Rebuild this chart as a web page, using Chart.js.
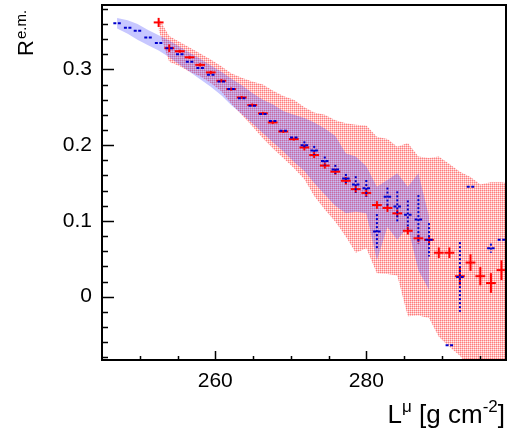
<!DOCTYPE html>
<html>
<head>
<meta charset="utf-8">
<script src="https://cdn.jsdelivr.net/npm/chart.js@4.4.0/dist/chart.umd.min.js"></script>
<style>
  html, body { margin: 0; padding: 0; background: #fff; }
  #wrap { width: 515px; height: 432px; }
</style>
</head>
<body>
<div id="wrap"><canvas id="chart"></canvas></div>
<script>
// bin centres, L^mu [g cm^-2]
var depth = [247.0, 248.4, 249.7, 251.1, 252.5, 253.9, 255.3, 256.6, 258.0, 259.4,
             260.8, 262.1, 263.5, 264.9, 266.3, 267.6, 269.0, 270.4, 271.8, 273.1,
             274.5, 275.9, 277.3, 278.6, 280.0, 281.4, 282.8, 284.1, 285.5, 286.9,
             288.3, 289.6, 291.0, 292.4, 293.8, 295.1, 296.5, 297.9];

// blue points (all 38 bins)
var blueR = [0.361, 0.355, 0.351, 0.342, 0.335, 0.328, 0.320, 0.310, 0.302, 0.293,
             0.284, 0.274, 0.262, 0.252, 0.241, 0.232, 0.219, 0.210, 0.200, 0.193,
             0.179, 0.168, 0.156, 0.148, 0.143, 0.086, 0.132, 0.119, 0.108, 0.102,
             0.075, null, -0.064, 0.026, 0.145, null, 0.064, 0.075];
var blueErr = [0, 0, 0, 0, 0, 0, 0, 0, 0, 0,
               0, 0, 0, 0, 0, 0, 0, 0, 0.005, 0.006,
               0.006, 0.006, 0.006, 0.011, 0.011, 0.023, 0.012, 0.020, 0.019, 0.032,
               0.022, 0, 0, 0.046, 0, 0, 0.006, 0];

// red points (bins from 252.5 on)
var redR = [0.362, 0.328, 0.324, 0.316, 0.306, 0.296, 0.285, 0.274, 0.263, 0.253,
            0.242, 0.230, 0.218, 0.208, 0.197, 0.187, 0.173, 0.165, 0.153, 0.142,
            0.137, 0.121, 0.117, 0.110, 0.087, 0.077, 0.075, 0.058, 0.058, 0.027,
            0.045, 0.027, 0.018, 0.035];
var redErr = [0.006, 0.005, 0.002, 0.002, 0.002, 0.002, 0.002, 0.002, 0.002, 0.002,
              0.002, 0.002, 0.002, 0.002, 0.004, 0.004, 0.004, 0.004, 0.005, 0.005,
              0.005, 0.005, 0.005, 0.005, 0.005, 0.005, 0.005, 0.007, 0.007, 0.012,
              0.011, 0.012, 0.013, 0.013];

// systematic bands
var blueBandHi = [0.368, 0.365, 0.360, 0.352, 0.345, 0.338, 0.330, 0.322, 0.314, 0.305,
                  0.297, 0.288, 0.279, 0.269, 0.260, 0.254, 0.245, 0.240, 0.236, 0.230,
                  0.222, 0.212, 0.189, 0.185, 0.172, 0.145, 0.154, 0.163, 0.145, 0.163,
                  0.106];
var blueBandLo = [0.354, 0.347, 0.339, 0.332, 0.325, 0.316, 0.306, 0.297, 0.287, 0.277,
                  0.266, 0.253, 0.241, 0.229, 0.216, 0.204, 0.192, 0.178, 0.166, 0.150,
                  0.135, 0.120, 0.110, 0.112, 0.110, 0.048, 0.092, 0.075, 0.092, 0.035,
                  0.009];
var redBandHi = [0.368, 0.344, 0.336, 0.329, 0.321, 0.313, 0.304, 0.295, 0.289, 0.284,
                 0.280, 0.272, 0.265, 0.260, 0.250, 0.243, 0.240, 0.233, 0.229, 0.227,
                 0.226, 0.211, 0.208, 0.198, 0.203, 0.185, 0.183, 0.185, 0.175, 0.165,
                 0.158, 0.148, 0.151, 0.151, 0.150];
var redBandLo = [0.352, 0.310, 0.304, 0.297, 0.291, 0.282, 0.271, 0.255, 0.240, 0.225,
                 0.209, 0.196, 0.183, 0.170, 0.155, 0.133, 0.115, 0.099, 0.079, 0.058,
                 0.064, 0.031, 0.030, 0.028, -0.026, -0.025, -0.028, -0.053, -0.066, -0.078,
                 -0.095, -0.1, -0.1, -0.1, -0.1];
var redBandDepth = depth.slice(4).concat(298.6);

var xTicks = [260, 280];
var yTicks = [0, 0.1, 0.2, 0.3];
var yTickLabels = ['0', '0.1', '0.2', '0.3'];

var FONT = "'Liberation Sans', Arial, Helvetica, sans-serif";

function points(xs, ys, errs, ex) {
    var out = [];
    for (var i = 0; i < ys.length; i++) {
        if (ys[i] === null) continue;
        out.push({ x: xs[i], y: ys[i], ex: ex, ey: errs[i] });
    }
    return out;
}

function band(xs, ys) {
    return ys.map(function (v, i) { return { x: xs[i], y: v }; });
}

function makePattern(cells, w, h) {
    var c = document.createElement('canvas');
    c.width = w; c.height = h;
    var g = c.getContext('2d');
    cells.forEach(function (p) {
        g.fillStyle = p[2];
        g.fillRect(p[0], p[1], 1, 1);
    });
    return g.createPattern(c, 'repeat');
}

var redFill = makePattern([
    [0, 0, 'rgba(255,70,70,0.7)'], [1, 0, 'rgba(255,130,130,0.55)'],
    [0, 1, 'rgba(255,130,130,0.55)'], [1, 1, 'rgba(255,210,210,0.3)']
], 2, 2);
var blueFill = 'rgba(70,70,255,0.3)';

// error bars, frame, inner ticks and axis titles
var decorations = {
    id: 'decorations',
    afterDatasetsDraw: function (chart) {
        var ctx = chart.ctx, xs = chart.scales.x, ys = chart.scales.y, a = chart.chartArea;
        ctx.save();
        ctx.beginPath();
        ctx.rect(a.left, a.top, a.right - a.left, a.bottom - a.top);
        ctx.clip();
        chart.data.datasets.forEach(function (ds) {
            if (!ds.errorStyle) return;
            var st = ds.errorStyle;
            ctx.strokeStyle = st.color;
            ctx.lineWidth = 2;
            ds.data.forEach(function (p) {
                var px = xs.getPixelForValue(p.x), py = ys.getPixelForValue(p.y);
                ctx.setLineDash(st.hDash);
                ctx.beginPath();
                ctx.moveTo(xs.getPixelForValue(p.x - p.ex), py);
                ctx.lineTo(xs.getPixelForValue(p.x + p.ex), py);
                ctx.stroke();
                if (p.ey > 0) {
                    ctx.setLineDash(st.vDash);
                    ctx.beginPath();
                    ctx.moveTo(px, ys.getPixelForValue(p.y + p.ey));
                    ctx.lineTo(px, ys.getPixelForValue(p.y - p.ey));
                    ctx.stroke();
                }
            });
        });
        ctx.restore();
    },
    afterDraw: function (chart) {
        var ctx = chart.ctx, xs = chart.scales.x, ys = chart.scales.y, a = chart.chartArea;
        ctx.save();
        ctx.strokeStyle = '#000';
        ctx.lineWidth = 2;
        ctx.setLineDash([]);
        ctx.strokeRect(a.left, a.top, a.right - a.left, a.bottom - a.top);

        ctx.lineWidth = 1.5;
        ctx.beginPath();
        for (var v = -8; v <= 38; v += 2) {
            var py = Math.round(ys.getPixelForValue(v / 100)) + 0.5;
            var len = (v % 10 === 0) ? 12 : 6;
            ctx.moveTo(a.left, py);
            ctx.lineTo(a.left + len, py);
        }
        for (var t = 250; t <= 295; t += 5) {
            var px = Math.round(xs.getPixelForValue(t)) + 0.5;
            var l2 = (t % 20 === 0) ? 9 : 4;
            ctx.moveTo(px, a.bottom);
            ctx.lineTo(px, a.bottom - l2);
        }
        ctx.stroke();

        ctx.fillStyle = '#000';
        ctx.textBaseline = 'alphabetic';
        // x title
        var big = '26px ' + FONT, small = '17px ' + FONT;
        var parts = [['L', big, 0], ['\u03bc', small, -11], [' [g cm', big, 0], ['-2', small, -11], [']', big, 0]];
        var total = 0;
        parts.forEach(function (p) { ctx.font = p[1]; total += ctx.measureText(p[0]).width; });
        var x = 505 - total;
        parts.forEach(function (p) {
            ctx.font = p[1];
            ctx.fillText(p[0], x, 423 + p[2]);
            x += ctx.measureText(p[0]).width;
        });
        // y title
        ctx.translate(33, 56);
        ctx.rotate(-Math.PI / 2);
        ctx.font = '22px ' + FONT;
        ctx.fillText('R', 0, 0);
        var w = ctx.measureText('R').width;
        ctx.font = '15px ' + FONT;
        ctx.fillText('e.m.', w + 1, -7);
        ctx.restore();
    }
};

var ctx = document.getElementById('chart').getContext('2d');
var chart = new Chart(ctx, {
    type: 'line',
    data: {
        datasets: [{
            data: points(depth.slice(4), redR, redErr, 0.65),
            showLine: false, pointRadius: 0,
            errorStyle: { color: '#ff0000', hDash: [], vDash: [] }
        }, {
            data: points(depth, blueR, blueErr, 0.5),
            showLine: false, pointRadius: 0,
            errorStyle: { color: '#0000cc', hDash: [3, 1.5], vDash: [2, 2] }
        }, {
            data: band(depth, blueBandHi),
            borderWidth: 0, pointRadius: 0, tension: 0,
            backgroundColor: blueFill, fill: '+1'
        }, {
            data: band(depth, blueBandLo),
            borderWidth: 0, pointRadius: 0, tension: 0, fill: false
        }, {
            data: band(redBandDepth, redBandHi),
            borderWidth: 0, pointRadius: 0, tension: 0,
            backgroundColor: redFill, fill: '+1'
        }, {
            data: band(redBandDepth, redBandLo),
            borderWidth: 0, pointRadius: 0, tension: 0, fill: false
        }]
    },
    options: {
        responsive: true,
        maintainAspectRatio: false,
        animation: false,
        layout: { padding: { top: 5, right: 9, left: 0, bottom: 0 } },
        plugins: { legend: { display: false }, tooltip: { enabled: false } },
        scales: {
            x: {
                type: 'linear', min: 245, max: 298.5,
                grid: { display: false, drawTicks: false },
                border: { display: false },
                afterBuildTicks: function (s) { s.ticks = xTicks.map(function (v) { return { value: v }; }); },
                afterFit: function (s) { s.height = 72; s.paddingLeft = 0; s.paddingRight = 0; },
                ticks: { color: '#000', padding: 9, font: { family: FONT, size: 21 } }
            },
            y: {
                min: -0.0836, max: 0.385,
                grid: { display: false, drawTicks: false },
                border: { display: false },
                afterBuildTicks: function (s) { s.ticks = yTicks.map(function (v) { return { value: v }; }); },
                afterFit: function (s) { s.width = 102; s.paddingTop = 0; s.paddingBottom = 0; },
                ticks: {
                    color: '#000', padding: 10, font: { family: FONT, size: 21 },
                    callback: function (v, i) { return yTickLabels[i]; }
                }
            }
        }
    },
    plugins: [decorations]
});
</script>
</body>
</html>
